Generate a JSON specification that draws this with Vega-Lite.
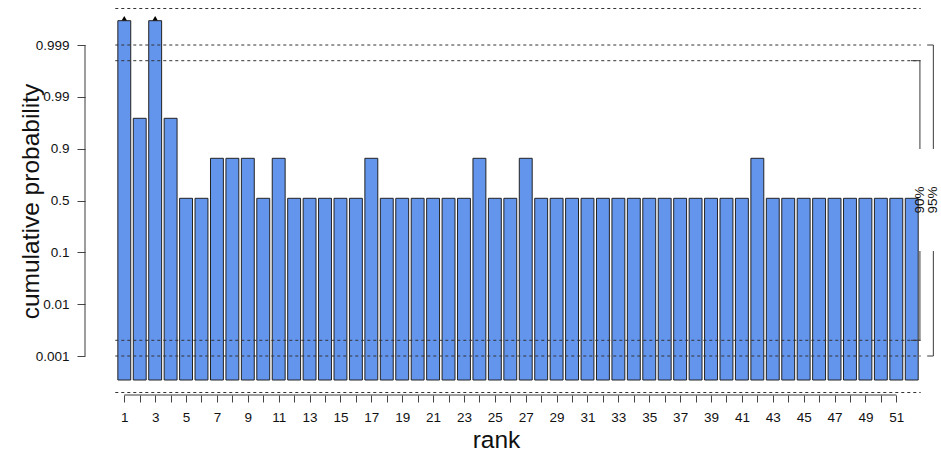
{
  "$schema": "https://vega.github.io/schema/vega-lite/v6.json",
  "width": 856,
  "height": 390,
  "autosize": {"type": "none"},
  "padding": {"left": 85, "top": 5, "right": 0, "bottom": 61},
  "config": {
    "view": {"stroke": null},
    "font": "Liberation Sans",
    "axis": {
      "domain": false, "grid": false, "tickColor": "#444", "tickWidth": 1,
      "labelFontSize": 13.5, "labelColor": "#111", "labelOverlap": false, "labelFlush": false,
      "titleFontSize": 24.5, "titleFontWeight": "normal", "titleColor": "#111"
    },
    "axisX": {"tickSize": 7, "labelPadding": 8.5},
    "axisY": {"tickSize": 8, "labelPadding": 8}
  },
  "datasets": {
    "bars": [
      {"rank": 1, "height": 359.3}, {"rank": 2, "height": 261.7}, {"rank": 3, "height": 359.3}, {"rank": 4, "height": 261.7},
      {"rank": 5, "height": 181.7}, {"rank": 6, "height": 181.7}, {"rank": 7, "height": 221.7}, {"rank": 8, "height": 221.7},
      {"rank": 9, "height": 221.7}, {"rank": 10, "height": 181.7}, {"rank": 11, "height": 221.7}, {"rank": 12, "height": 181.7},
      {"rank": 13, "height": 181.7}, {"rank": 14, "height": 181.7}, {"rank": 15, "height": 181.7}, {"rank": 16, "height": 181.7},
      {"rank": 17, "height": 221.7}, {"rank": 18, "height": 181.7}, {"rank": 19, "height": 181.7}, {"rank": 20, "height": 181.7},
      {"rank": 21, "height": 181.7}, {"rank": 22, "height": 181.7}, {"rank": 23, "height": 181.7}, {"rank": 24, "height": 221.7},
      {"rank": 25, "height": 181.7}, {"rank": 26, "height": 181.7}, {"rank": 27, "height": 221.7}, {"rank": 28, "height": 181.7},
      {"rank": 29, "height": 181.7}, {"rank": 30, "height": 181.7}, {"rank": 31, "height": 181.7}, {"rank": 32, "height": 181.7},
      {"rank": 33, "height": 181.7}, {"rank": 34, "height": 181.7}, {"rank": 35, "height": 181.7}, {"rank": 36, "height": 181.7},
      {"rank": 37, "height": 181.7}, {"rank": 38, "height": 181.7}, {"rank": 39, "height": 181.7}, {"rank": 40, "height": 181.7},
      {"rank": 41, "height": 181.7}, {"rank": 42, "height": 221.7}, {"rank": 43, "height": 181.7}, {"rank": 44, "height": 181.7},
      {"rank": 45, "height": 181.7}, {"rank": 46, "height": 181.7}, {"rank": 47, "height": 181.7}, {"rank": 48, "height": 181.7},
      {"rank": 49, "height": 181.7}, {"rank": 50, "height": 181.7}, {"rank": 51, "height": 181.7}, {"rank": 52, "height": 181.7}
    ],
    "segments": [
      {"kind": "dash", "x": 0.417, "x2": 52.58, "y": 371.5, "y2": 371.5},
      {"kind": "dash", "x": 0.417, "x2": 52.58, "y": 335, "y2": 335},
      {"kind": "dash", "x": 0.417, "x2": 52.58, "y": 319.3, "y2": 319.3},
      {"kind": "dash", "x": 0.417, "x2": 52.58, "y": 39.7, "y2": 39.7},
      {"kind": "dash", "x": 0.417, "x2": 52.58, "y": 24, "y2": 24},
      {"kind": "dash", "x": 0.417, "x2": 52.58, "y": -12.5, "y2": -12.5},
      {"kind": "axis", "x": -1.545, "x2": -1.545, "y": 24, "y2": 335},
      {"kind": "axis", "x": 1, "x2": 51, "y": -15, "y2": -15},
      {"kind": "solid", "x": 52.53, "x2": 52.53, "y": 39.7, "y2": 129},
      {"kind": "solid", "x": 52.53, "x2": 52.53, "y": 231, "y2": 319.3},
      {"kind": "solid", "x": 51.95, "x2": 52.53, "y": 39.7, "y2": 39.7},
      {"kind": "solid", "x": 51.95, "x2": 52.53, "y": 319.3, "y2": 319.3},
      {"kind": "solid", "x": 53.4, "x2": 53.4, "y": 24, "y2": 129},
      {"kind": "solid", "x": 53.4, "x2": 53.4, "y": 231, "y2": 335},
      {"kind": "solid", "x": 53.0, "x2": 53.4, "y": 24, "y2": 24},
      {"kind": "solid", "x": 53.0, "x2": 53.4, "y": 335, "y2": 335}
    ],
    "intervals": [
      {"level": "90%", "x": 52.53, "mid": 180},
      {"level": "95%", "x": 53.4, "mid": 180}
    ]
  },
  "layer": [
    {
      "data": {"name": "bars"},
      "mark": {"type": "bar", "width": 12.9, "fill": "#6495ED", "stroke": "#222", "strokeWidth": 1},
      "encoding": {
        "x": {
          "field": "rank", "type": "quantitative",
          "scale": {"domain": [-1.545, 53.895], "nice": false, "zero": false, "padding": 0},
          "axis": {
            "values": [1,2,3,4,5,6,7,8,9,10,11,12,13,14,15,16,17,18,19,20,21,22,23,24,25,26,27,28,29,30,31,32,33,34,35,36,37,38,39,40,41,42,43,44,45,46,47,48,49,50,51],
            "tickCount": 200,
            "format": "d",
            "labelExpr": "datum.value % 2 == 1 ? datum.label : ''",
            "labelOverlap": false,
            "title": "rank",
            "titleX": 411, "titleY": 52, "titleBaseline": "alphabetic", "titleAlign": "center"
          }
        },
        "y": {
          "field": "height", "type": "quantitative",
          "scale": {"domain": [-15, 375], "nice": false, "zero": true, "padding": 0},
          "axis": {
            "values": [24, 75.8, 127.7, 179.5, 231.3, 283.2, 335],
            "tickCount": 50,
            "labelExpr": "datum.value < 50 ? '0.001' : datum.value < 100 ? '0.01' : datum.value < 150 ? '0.1' : datum.value < 200 ? '0.5' : datum.value < 250 ? '0.9' : datum.value < 300 ? '0.99' : '0.999'",
            "labelOverlap": false,
            "title": "cumulative probability",
            "titleX": -47, "titleY": 196, "titleAngle": 270, "titleBaseline": "alphabetic", "titleAlign": "center"
          }
        }
      }
    },
    {
      "data": {"name": "segments"},
      "transform": [{"filter": "datum.kind == 'dash'"}],
      "mark": {"type": "rule", "color": "#333", "strokeWidth": 1, "strokeDash": [3, 3]},
      "encoding": {
        "x": {"field": "x", "type": "quantitative"},
        "x2": {"field": "x2"},
        "y": {"field": "y", "type": "quantitative"},
        "y2": {"field": "y2"}
      }
    },
    {
      "data": {"name": "segments"},
      "transform": [{"filter": "datum.kind != 'dash'"}],
      "mark": {"type": "rule", "color": "#3a3a3a", "strokeWidth": 1},
      "encoding": {
        "x": {"field": "x", "type": "quantitative"},
        "x2": {"field": "x2"},
        "y": {"field": "y", "type": "quantitative"},
        "y2": {"field": "y2"}
      }
    },
    {
      "data": {"name": "bars"},
      "transform": [{"filter": "datum.height > 350"}],
      "mark": {"type": "point", "shape": "triangle-up", "filled": true, "color": "#000", "size": 28, "opacity": 1, "yOffset": -2.5},
      "encoding": {
        "x": {"field": "rank", "type": "quantitative"},
        "y": {"field": "height", "type": "quantitative"}
      }
    },
    {
      "data": {"name": "intervals"},
      "mark": {"type": "text", "angle": 270, "fontSize": 13.5, "align": "center", "baseline": "middle", "color": "#111", "xOffset": 0},
      "encoding": {
        "x": {"field": "x", "type": "quantitative"},
        "y": {"field": "mid", "type": "quantitative"},
        "text": {"field": "level"}
      }
    }
  ]
}
